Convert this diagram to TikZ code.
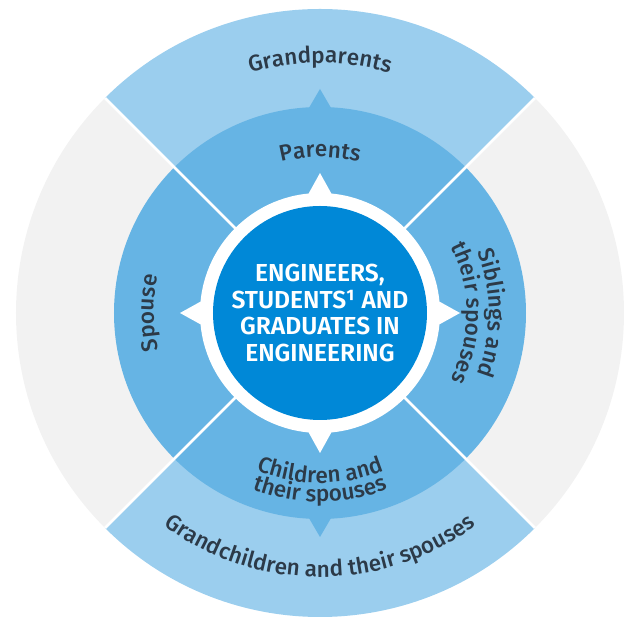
\documentclass[tikz,border=0pt]{standalone}
\usepackage{fontspec}
\setmainfont{Fira Sans}
\IfFontExistsTF{Fira Sans Medium}
    {\newfontfamily\medfont{Fira Sans Medium}}
    {\newfontfamily\medfont{Fira Sans}}
\IfFontExistsTF{Fira Sans SemiBold}
    {\newfontfamily\semifont{Fira Sans SemiBold}}
    {\newfontfamily\semifont{Fira Sans}[FakeBold=1.2]}
\usetikzlibrary{decorations.text}

\definecolor{outerblue}{HTML}{9BCEEE}
\definecolor{midblue}{HTML}{66B4E4}
\definecolor{coreblue}{HTML}{0088D7}
\definecolor{outergray}{HTML}{F2F2F2}
\definecolor{labeltext}{HTML}{2C3A48}

\newcommand{\lblfont}{\medfont\fontsize{16}{18}\selectfont\color{labeltext}}
\newcommand{\corefont}{\semifont\fontsize{17.5}{19}\selectfont}

\tikzset{
    ringlabel/.style={decorate, decoration={text along path, text align=center, text={|\lblfont|#1}}},
    divider/.style={white, line width=1.8pt},
    core/.style={circle, fill=coreblue, minimum size=5.35cm, inner sep=0pt, text=white, align=center, font=\corefont}
}

\begin{document}
\begin{tikzpicture}
    \useasboundingbox (-8,-7.6) rectangle (7.725,7.825);
    \coordinate (c) at (0,0);

    % Draw outer ring sectors
    \fill[outerblue] (c) -- (45:7.6) arc (45:135:7.6) -- cycle;
    \fill[outergray] (c) -- (135:7.6) arc (135:225:7.6) -- cycle;
    \fill[outerblue] (c) -- (225:7.6) arc (225:315:7.6) -- cycle;
    \fill[outergray] (c) -- (315:7.6) arc (315:405:7.6) -- cycle;

    % Draw middle ring with its pointers up and down
    \fill[midblue] (c) circle (5.15);
    \foreach \a in {90,270}
        \fill[midblue, rotate=\a] (5.6,0) -- (5.0,0.35) -- (5.0,-0.35) -- cycle;

    % Draw white dividing lines
    \foreach \a in {45,135,225,315}
        \draw[divider] (c) -- (\a:7.6);

    % Draw white ring with pointers and the core circle
    \fill[white] (c) circle (3.0);
    \foreach \a in {0,90,180,270}
        \fill[white, rotate=\a] (3.5,0) -- (2.85,0.36) -- (2.85,-0.36) -- cycle;
    \node[core] (core) at (c) {ENGINEERS,\\STUDENTS¹ AND\\GRADUATES IN\\ENGINEERING};

    % Add labels for the outer ring
    \path[ringlabel={Grandparents}] (125:6.25) arc (125:55:6.25);
    \path[ringlabel={Grandchildren and their spouses}] (200:6.6) arc (200:340:6.6);

    % Add labels for the middle ring
    \path[ringlabel={Parents}] (135:3.9) arc (135:45:3.9);
    \path[ringlabel={Spouse}] (220:4.15) arc (220:140:4.15);
    \path[ringlabel={Siblings and}] (40:4.22) arc (40:-40:4.22);
    \path[ringlabel={their spouses}] (45:3.67) arc (45:-45:3.67);
    \path[ringlabel={Children and}] (220:4.25) arc (220:320:4.25);
    \path[ringlabel={their spouses}] (215:4.72) arc (215:325:4.72);
\end{tikzpicture}
\end{document}
